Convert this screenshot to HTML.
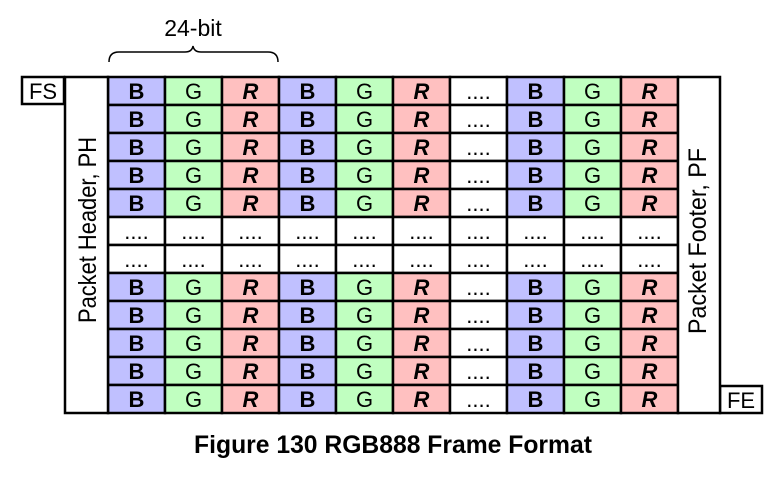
<!DOCTYPE html>
<html><head><meta charset="utf-8"><style>
html,body{margin:0;padding:0;background:#fff;width:783px;height:484px;overflow:hidden}
svg{display:block;font-family:"Liberation Sans",Arial,sans-serif}
</style></head><body>
<svg id="s" width="783" height="484" viewBox="0 0 783 484" xmlns="http://www.w3.org/2000/svg">
<text x="193" y="36" font-size="23" text-anchor="middle">24-bit</text>
<path d="M109 62 Q109 52 119 52 L185 52 Q192 52 193 46 Q194 52 201 52 L268 52 Q278 52 278 62" fill="none" stroke="#000" stroke-width="1.5"/>
<g id="g"></g>
<rect x="22" y="77" width="42" height="27" fill="#fff" stroke="#000" stroke-width="2.5"/>
<text x="43" y="99" font-size="22" text-anchor="middle">FS</text>
<rect x="720" y="386" width="42" height="27" fill="#fff" stroke="#000" stroke-width="2.5"/>
<text x="741" y="408" font-size="22" text-anchor="middle">FE</text>
<rect x="65" y="77" width="43" height="336" fill="#fff" stroke="#000" stroke-width="2.5"/>
<text transform="translate(96,230) rotate(-90)" font-size="25" text-anchor="middle" textLength="186" lengthAdjust="spacingAndGlyphs">Packet Header, PH</text>
<rect x="678" y="77" width="42" height="336" fill="#fff" stroke="#000" stroke-width="2.5"/>
<text transform="translate(706,241) rotate(-90)" font-size="25" text-anchor="middle" textLength="186" lengthAdjust="spacingAndGlyphs">Packet Footer, PF</text>
<text x="393" y="453" font-size="24.7" font-weight="bold" text-anchor="middle">Figure 130 RGB888 Frame Format</text>
</svg>
<script>
var g=document.getElementById('g'),ns='http://www.w3.org/2000/svg';
var cols=['B','G','R','B','G','R','.','B','G','R'];
var fills={B:'#c0c0ff',G:'#c0ffc0',R:'#ffc0c0','.':'#fff'};
for(var r=0;r<12;r++){
 var y=77+r*28; var dots=(r==5||r==6);
 for(var c=0;c<10;c++){
  var x=108+c*57; var t=dots?'.':cols[c];
  var rc=document.createElementNS(ns,'rect');
  rc.setAttribute('x',x);rc.setAttribute('y',y);rc.setAttribute('width',57);rc.setAttribute('height',28);
  rc.setAttribute('fill',fills[t]);rc.setAttribute('stroke','#000');rc.setAttribute('stroke-width','2.5');
  g.appendChild(rc);
  var tx=document.createElementNS(ns,'text');
  tx.setAttribute('x',x+28.5);tx.setAttribute('y',y+22);tx.setAttribute('font-size','22');tx.setAttribute('text-anchor','middle');
  if(t=='.'){tx.textContent='....';}
  else{tx.textContent=t; if(t=='B')tx.setAttribute('font-weight','bold'); if(t=='R'){tx.setAttribute('font-weight','bold');tx.setAttribute('font-style','italic');}}
  g.appendChild(tx);
 }
}
</script>
</body></html>
